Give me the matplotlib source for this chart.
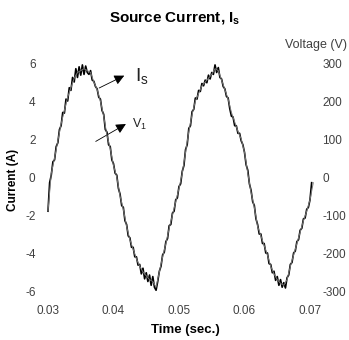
import numpy as np
import matplotlib
matplotlib.use("Agg")
import matplotlib.pyplot as plt

plt.rcParams['font.family'] = ['Liberation Sans', 'DejaVu Sans']
plt.rcParams['axes.unicode_minus'] = False
plt.rcParams['mathtext.fontset'] = 'custom'
plt.rcParams['mathtext.rm'] = 'Liberation Sans'
plt.rcParams['mathtext.bf'] = 'Liberation Sans:bold'
plt.rcParams['mathtext.it'] = 'Liberation Sans:italic'

# ---- data ----
t_start = 0.030
is_step = 0.0005
v_step = 0.00025

current_is = [-1.8, 0.2, 1.0, 1.9, 2.8, 3.5, 4.2, 4.7, 5.2, 5.5,
              5.6, 5.7, 5.6, 5.5, 5.0, 4.6, 4.0, 3.2, 2.2, 1.5,
              0.6, 0.0, -1.0, -1.7, -2.6, -3.3, -3.8, -4.3, -4.7, -5.0,
              -5.2, -5.4, -5.5, -5.8, -5.0, -4.2, -3.5, -2.7, -2.0, -1.3,
              -0.6, 0.2, 1.3, 2.4, 3.3, 4.0, 4.4, 4.8, 5.0, 5.2,
              5.4, 5.7, 5.6, 5.1, 4.6, 4.1, 3.4, 2.9, 2.4, 2.0,
              1.3, 0.2, -0.8, -1.6, -2.6, -3.1, -3.6, -4.1, -4.7, -5.1,
              -5.4, -5.6, -5.7, -5.4, -4.7, -4.1, -3.5, -2.9, -2.3, -1.8,
              -1.2, -0.3]

voltage_v1 = [-90, -15, 5, 40, 45, 80, 90, 125,
              135, 170, 168, 205, 200, 235, 228, 262,
              250, 285, 262, 290, 268, 295, 270, 292,
              275, 270, 280, 255, 252, 238, 232, 210,
              205, 175, 165, 125, 118, 85, 80, 45,
              35, 10, 5, -30, -45, -75, -80, -115,
              -125, -155, -160, -185, -185, -210, -210, -232,
              -230, -255, -240, -268, -252, -275, -258, -285,
              -262, -290, -298, -275, -248, -235, -205, -198,
              -170, -162, -128, -125, -95, -90, -60, -55,
              -25, -18, 15, 30, 72, 85, 128, 135,
              172, 178, 208, 205, 228, 225, 246, 240,
              255, 248, 268, 258, 275, 270, 295, 275,
              288, 262, 258, 238, 232, 212, 208, 180,
              160, 158, 135, 135, 115, 115, 95, 85,
              65, 32, 18, -18, -35, -65, -75, -110,
              -125, -150, -150, -175, -175, -200, -200, -228,
              -230, -252, -248, -272, -262, -285, -270, -290,
              -278, -292, -265, -258, -230, -225, -200, -195,
              -170, -165, -140, -135, -110, -108, -85, -80,
              -60, -15]

x_ticks = [0.03, 0.04, 0.05, 0.06, 0.07]
x_tick_labels = ['0.03', '0.04', '0.05', '0.06', '0.07']
i_ticks = [-6, -4, -2, 0, 2, 4, 6]
v_ticks = [-300, -200, -100, 0, 100, 200, 300]

t_is = t_start + is_step * np.arange(len(current_is))
t_v1 = t_start + v_step * np.arange(len(voltage_v1))

# ---- figure ----
fig = plt.figure(figsize=(3.49, 3.40), dpi=100)
ax = fig.add_axes([48/349, 1-291/340, 262/349, 228/340])
ax2 = ax.twinx()

ax2.plot(t_v1, voltage_v1, color='black', lw=1.2, clip_on=False)
ax.plot(t_is, current_is, color='#777777', lw=0.7, clip_on=False, zorder=5)
ax.set_zorder(2)
ax.patch.set_visible(False)

ax.set_xlim(0.03, 0.07)
ax.set_ylim(-6, 6)
ax2.set_ylim(-300, 300)
ax.set_xticks(x_ticks)
ax.set_xticklabels(x_tick_labels)
ax.set_yticks(i_ticks)
ax2.set_yticks(v_ticks)

tick_col = '#404040'
for a in (ax, ax2):
    for s in a.spines.values():
        s.set_visible(False)
ax.tick_params(axis='x', length=0, pad=10, labelsize=8.5, labelcolor=tick_col)
ax.tick_params(axis='y', length=0, pad=9, labelsize=8.5, labelcolor=tick_col)
ax2.tick_params(axis='y', length=0, pad=9, labelsize=8.5, labelcolor=tick_col)

# annotations
ax.annotate('', xy=(0.04202, 5.4), xytext=(0.03743, 4.62),
            arrowprops=dict(arrowstyle='-|>', mutation_scale=15, lw=0.6, color='black'))
ax.text(0.04330, 5.3, r'$\mathrm{I_s}$', fontsize=14, va='center', ha='left', color='#222222')
ax.annotate('', xy=(0.04226, 2.86), xytext=(0.03692, 1.8),
            arrowprops=dict(arrowstyle='-|>', mutation_scale=15, lw=0.6, color='black'))
ax.text(0.04290, 2.75, r'$\mathrm{V_1}$', fontsize=9, va='center', ha='left', color='#222222')

fig.text(175/349, 1-18/340, r'Source Current, $\mathbf{I_s}$', fontsize=11,
         fontweight='bold', ha='center', va='center')
fig.text(347/349, 1-45/340, 'Voltage (V)', fontsize=9, ha='right', va='center', color=tick_col)
fig.text(13/349, 1-180/340, 'Current (A)', fontsize=8.5, fontweight='bold',
         rotation=90, ha='center', va='center')
fig.text(185/349, 1-330/340, 'Time (sec.)', fontsize=9.5, fontweight='bold',
         ha='center', va='center')

fig.savefig('out.png', dpi=100)
